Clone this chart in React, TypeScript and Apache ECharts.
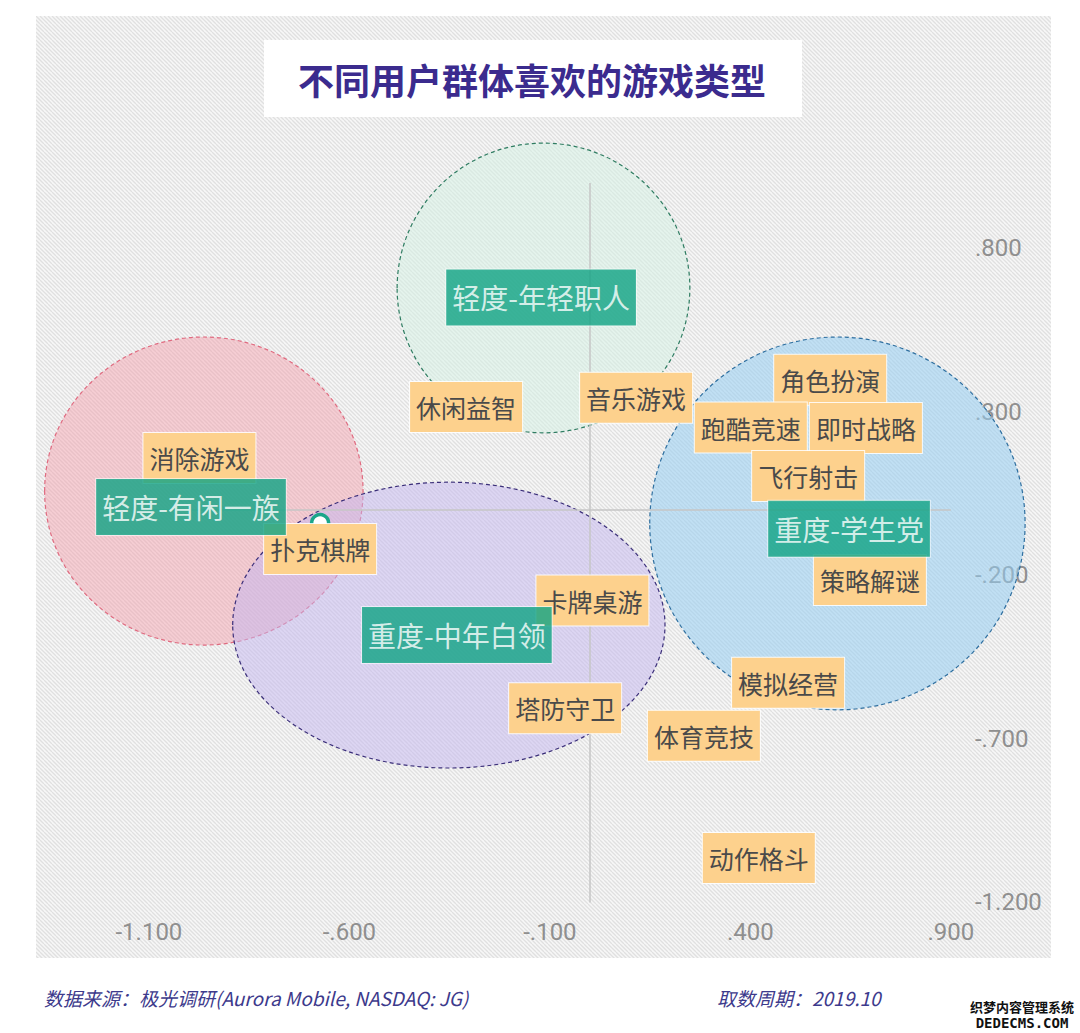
import React, { useEffect, useRef } from 'react';
import * as echarts from 'echarts';

// axis tick values
const xTicks = [-1.1, -0.6, -0.1, 0.4, 0.9];
const yTicks = [0.8, 0.3, -0.2, -0.7, -1.2];

// game genres (label centres)
const gameNames = ['休闲益智', '消除游戏', '扑克棋牌', '音乐游戏', '角色扮演', '跑酷竞速', '即时战略', '飞行射击', '策略解谜', '卡牌桌游', '塔防守卫', '模拟经营', '体育竞技', '动作格斗'];
const gameX = [-0.309, -0.974, -0.673, 0.115, 0.599, 0.401, 0.688, 0.544, 0.698, 0.006, -0.062, 0.494, 0.284, 0.421];
const gameY = [0.315, 0.159, -0.040, 0.343, 0.398, 0.252, 0.251, 0.104, -0.214, -0.277, -0.606, -0.528, -0.690, -1.064];

// user groups
const groupNames = ['轻度-有闲一族', '轻度-年轻职人', '重度-中年白领', '重度-学生党'];
const groupX = [-0.995, -0.122, -0.332, 0.646];
const groupY = [0.009, 0.650, -0.382, -0.057];

// cluster ellipses: centre and radii in axis units
const clusterX = [-0.963, -0.116, -0.352, 0.617];
const clusterY = [0.058, 0.679, -0.352, -0.041];
const clusterRx = [0.397, 0.365, 0.539, 0.468];
const clusterRy = [0.471, 0.443, 0.437, 0.570];

// reference lines at 0
const refV = [[0, -1.2], [0, 1.0]];
const refH = [[-1.1, 0], [0.9, 0]];

const TITLE = '不同用户群体喜欢的游戏类型';
const SOURCE = '数据来源：极光调研(Aurora Mobile, NASDAQ: JG)';
const PERIOD = '取数周期：2019.10';

const clusterFill = ['rgba(244,156,168,0.45)', 'rgba(212,242,228,0.5)', 'rgba(196,182,240,0.5)', 'rgba(150,205,242,0.55)'];
const clusterStroke = ['#e06b80', '#2f7d62', '#3b2f7a', '#2e6fa0'];

const CJK = "'Noto Sans CJK SC', 'Noto Sans', sans-serif";

const fmt = (v: number) => v.toFixed(3).replace(/^(-?)0\./, '$1.');

function makePattern(): string {
  const c = document.createElement('canvas');
  c.width = 8;
  c.height = 8;
  const ctx = c.getContext('2d');
  if (ctx) {
    ctx.fillStyle = '#f7f7f7';
    ctx.fillRect(0, 0, 8, 8);
    ctx.strokeStyle = '#e0e0e0';
    ctx.lineWidth = 1.3;
    for (let k = -8; k <= 12; k += 4) {
      ctx.beginPath();
      ctx.moveTo(k, 0);
      ctx.lineTo(k + 8, 8);
      ctx.stroke();
    }
  }
  return c.toDataURL();
}

export default function App() {
  const ref = useRef<HTMLDivElement>(null);
  useEffect(() => {
    document.body.style.margin = '0';
    document.body.style.background = '#ffffff';
    if (!ref.current) return;
    const chart = echarts.init(ref.current, null, { renderer: 'svg' });
    const pattern = makePattern();

    const gameData = gameNames.map((n, i) => {
      const item: any = { name: n, value: [gameX[i], gameY[i]] };
      if (n === '扑克棋牌') item.label = { offset: [0, 26] };
      return item;
    });
    const groupData = groupNames.map((n, i) => ({ name: n, value: [groupX[i], groupY[i]] }));
    const clusterData = clusterX.map((x, i) => [x, clusterY[i], clusterRx[i], clusterRy[i]]);

    chart.setOption({
      animation: false,
      backgroundColor: '#ffffff',
      grid: { left: 68.7, top: 52.2, width: 898.24, height: 860.01, containLabel: false },
      xAxis: {
        type: 'value',
        min: -1.3,
        max: 0.94,
        axisLine: { show: false },
        axisTick: { show: false },
        splitLine: { show: false },
        axisLabel: {
          customValues: xTicks,
          formatter: fmt,
          color: '#8f8f8f',
          fontSize: 24,
          fontFamily: 'Roboto',
          margin: 8,
        },
      },
      yAxis: {
        type: 'value',
        position: 'right',
        min: -1.23,
        max: 1.4,
        axisLine: { show: false },
        axisTick: { show: false },
        splitLine: { show: false },
        axisLabel: {
          customValues: yTicks,
          formatter: fmt,
          color: '#8f8f8f',
          fontSize: 24,
          fontFamily: 'Roboto',
          margin: 8,
        },
      },
      graphic: [
        {
          type: 'rect',
          z: -10,
          silent: true,
          shape: { x: 36, y: 16, width: 1015, height: 942 },
          style: { fill: { image: pattern, repeat: 'repeat', imageWidth: 8, imageHeight: 8 } as any },
        },
        {
          type: 'rect',
          z: 100,
          silent: true,
          shape: { x: 264, y: 40, width: 538, height: 77 },
          style: { fill: '#ffffff' },
        },
        {
          type: 'text',
          z: 101,
          silent: true,
          x: 532,
          y: 79,
          style: {
            text: TITLE,
            fill: '#3b2b8e',
            font: `bold 36px ${CJK}`,
            align: 'center',
            verticalAlign: 'middle',
          },
        },
        {
          type: 'text',
          silent: true,
          x: 44,
          y: 997,
          style: {
            text: SOURCE,
            fill: '#3d3a8c',
            font: `italic 19px ${CJK}`,
            align: 'left',
            verticalAlign: 'middle',
          },
        },
        {
          type: 'text',
          silent: true,
          x: 717,
          y: 997,
          style: {
            text: PERIOD,
            fill: '#3d3a8c',
            font: `italic 19px ${CJK}`,
            align: 'left',
            verticalAlign: 'middle',
          },
        },
        {
          type: 'text',
          silent: true,
          x: 1022,
          y: 1006,
          style: { text: '织梦内容管理系统', fill: '#111', font: `bold 13px ${CJK}`, align: 'center', verticalAlign: 'middle' },
        },
        {
          type: 'text',
          silent: true,
          x: 1022,
          y: 1023,
          style: { text: 'DEDECMS.COM', fill: '#111', font: "bold 14px 'DejaVu Sans Mono', monospace", align: 'center', verticalAlign: 'middle' },
        },
      ],
      series: [
        {
          type: 'custom',
          z: 2,
          clip: false,
          silent: true,
          data: clusterData,
          renderItem: (params: any, api: any) => {
            const c = api.coord([api.value(0), api.value(1)]);
            const s = api.size([api.value(2), api.value(3)]);
            const i = params.dataIndex;
            return {
              type: 'ellipse',
              shape: { cx: c[0], cy: c[1], rx: s[0], ry: s[1] },
              style: {
                fill: clusterFill[i],
                stroke: clusterStroke[i],
                lineWidth: 1.2,
                lineDash: [4, 3],
              },
            };
          },
        },
        {
          type: 'line',
          z: 3,
          silent: true,
          data: refV,
          symbol: 'none',
          lineStyle: { color: '#c6c6c6', width: 1.5 },
        },
        {
          type: 'line',
          z: 3,
          silent: true,
          data: refH,
          symbol: 'none',
          lineStyle: { color: '#c6c6c6', width: 1.5 },
        },
        {
          type: 'scatter',
          z: 4,
          silent: true,
          data: gameData,
          symbol: 'circle',
          symbolSize: 17,
          itemStyle: { color: '#ffffff', borderColor: '#1aa68a', borderWidth: 3.5, opacity: 1 },
          label: {
            show: true,
            position: 'inside',
            formatter: '{b}',
            color: '#4a4a4a',
            fontSize: 25,
            lineHeight: 26,
            fontFamily: CJK,
            backgroundColor: '#fdd18d',
            borderColor: 'rgba(255,255,255,0.85)',
            borderWidth: 1,
            padding: [12, 6, 12, 6],
          },
        },
        {
          type: 'scatter',
          z: 5,
          silent: true,
          data: groupData,
          symbol: 'circle',
          symbolSize: 1,
          itemStyle: { color: 'rgba(0,0,0,0)' },
          label: {
            show: true,
            position: 'inside',
            formatter: '{b}',
            color: '#ffffff',
            fontSize: 28,
            lineHeight: 28,
            fontFamily: CJK,
            backgroundColor: '#0fa283',
            borderColor: 'rgba(255,255,255,0.7)',
            borderWidth: 1,
            padding: [14, 6, 14, 6],
          },
        },
      ],
    });
    return () => chart.dispose();
  }, []);
  return <div ref={ref} style={{ width: 1080, height: 1033 }} />;
}
